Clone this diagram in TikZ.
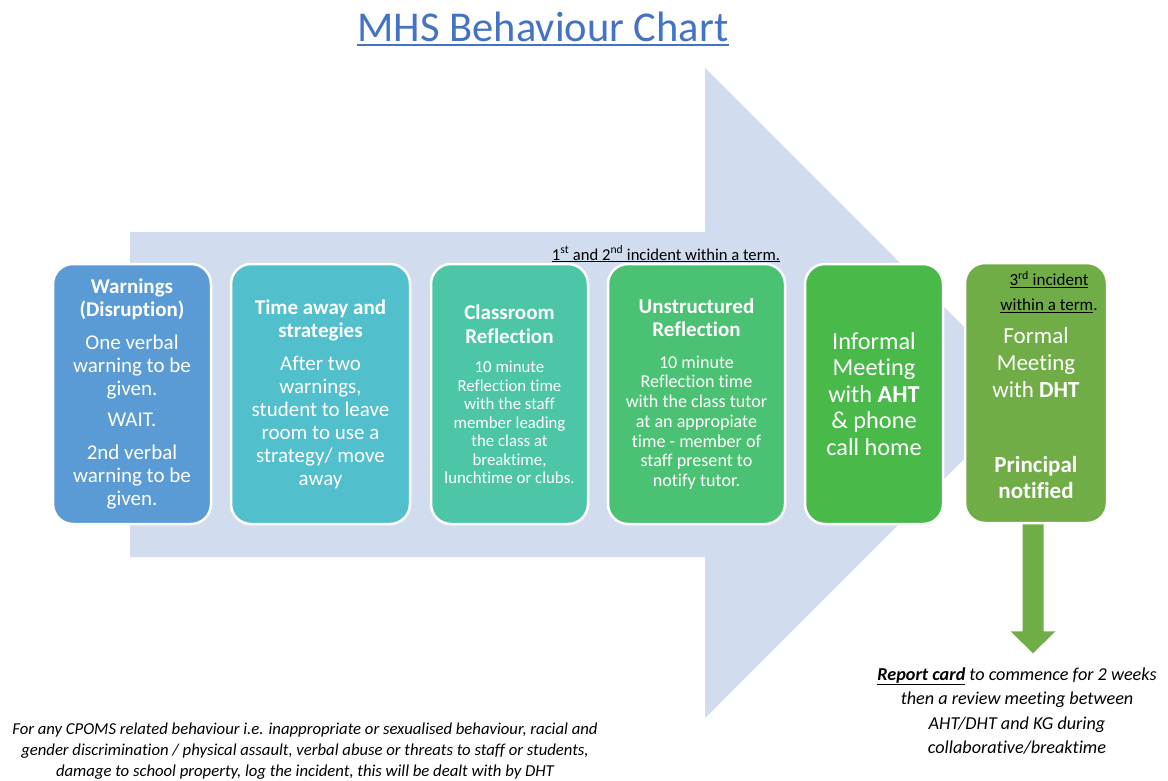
\documentclass[tikz,border=0pt]{standalone}
\usepackage{fontspec}
\setmainfont[Ligatures=NoCommon]{Carlito}
\usetikzlibrary{positioning}

\definecolor{titleblue}{HTML}{4472C4}
\definecolor{arrowblue}{HTML}{D1DCEF}
\definecolor{stagea}{HTML}{5B9BD5}
\definecolor{stageb}{HTML}{52BFCD}
\definecolor{stagec}{HTML}{4DC6A7}
\definecolor{staged}{HTML}{4BC273}
\definecolor{stagee}{HTML}{49BA4A}
\definecolor{stagef}{HTML}{70AD47}

\newcommand{\hdline}[1]{{\fontsize{21}{23}\selectfont\bfseries #1}}

\begin{document}
\begin{tikzpicture}[x=1pt,y=-1pt,
    stage/.style={draw=white, line width=2.5pt, rounded corners=20pt,
      text=white, align=center, minimum height=260pt, inner sep=0pt},
    note/.style={align=center, text=black, inner sep=0pt}]
  \useasboundingbox (0,0) rectangle (1168,780);

  \node[text=titleblue, font=\fontsize{42.5}{48}\selectfont, inner sep=0pt] (title) at (543,27) {MHS Behaviour Chart};
  \draw[titleblue, line width=1.5pt] ([yshift=-3pt]title.south west) -- ([yshift=-3pt]title.south east);

  \fill[arrowblue] (130,232) -- (705,232) -- (705,68) -- (1030,393) -- (705,718) -- (705,557) -- (130,557) -- cycle;

  \node[stage, fill=stagea, minimum width=158pt, font=\fontsize{21}{23}\selectfont] (warn) at (132,394)
    {\textbf{Warnings}\\\textbf{(Disruption)}\\[10pt]One verbal\\warning to be\\given.\\[8pt]WAIT.\\[10pt]2nd verbal\\warning to be\\given.};
  \node[stage, fill=stageb, minimum width=179pt, font=\fontsize{21}{23}\selectfont] (away) at (320.5,394)
    {\textbf{Time away and}\\\textbf{strategies}\\[10pt]After two\\warnings,\\student to leave\\room to use a\\strategy/ move\\away};
  \node[stage, fill=stagec, minimum width=157pt, font=\fontsize{16.8}{18.5}\selectfont] (classroom) at (509.5,394)
    {\hdline{Classroom}\\[5.5pt]\hdline{Reflection}\\[11pt]10 minute\\Reflection time\\with the staff\\member leading\\the class at\\breaktime,\\lunchtime or clubs.};
  \node[stage, fill=staged, minimum width=177pt, font=\fontsize{18.1}{19.7}\selectfont] (unstructured) at (696.5,394)
    {\hdline{Unstructured}\\[3.5pt]\hdline{Reflection}\\[12pt]10 minute\\Reflection time\\with the class tutor\\at an appropiate\\time - member of\\staff present to\\notify tutor.};
  \node[stage, fill=stagee, minimum width=138pt, font=\fontsize{24.3}{26.5}\selectfont] (informal) at (874,394)
    {Informal\\Meeting\\with \textbf{AHT}\\\& phone\\call home};
  \node[stage, fill=stagef, minimum width=142pt] (formal) at (1036,393) {};

  \fill[stagef] ([xshift=-13.5pt]formal.south) -- ++(0,107) -- ++(-12,0) -- ++(22.5,22)
    -- ++(22.5,-22) -- ++(-12,0) -- ++(0,-107) -- cycle;

  \node[note, font=\fontsize{16.6}{19}\selectfont] (firstnote) at (666,254)
    {\underline{1\textsuperscript{st} and 2\textsuperscript{nd} incident within a term.}};
  \node[note, font=\fontsize{17}{24.5}\selectfont] (thirdnote) at (1049,292)
    {\underline{3\textsuperscript{rd} incident}\\\underline{within a term}.};
  \node[note, text=white, font=\fontsize{23}{27}\selectfont] (dht) at (1036,363)
    {Formal\\Meeting\\with \textbf{DHT}};
  \node[note, text=white, font=\fontsize{23}{26}\selectfont\bfseries] (principal) at (1036,478)
    {Principal\\notified};

  \node[note, font=\fontsize{18.2}{24.5}\selectfont\itshape] (report) at (1017,711)
    {\textbf{\underline{Report card}} to commence for 2 weeks\\then a review meeting between\\AHT/DHT and KG during\\collaborative/breaktime};
  \node[note, font=\fontsize{16.7}{21}\selectfont\itshape] (cpoms) at (305,751)
    {For any CPOMS related behaviour i.e. inappropriate or sexualised behaviour, racial and\\gender discrimination / physical assault, verbal abuse or threats to staff or students,\\damage to school property, log the incident, this will be dealt with by DHT};
\end{tikzpicture}
\end{document}
